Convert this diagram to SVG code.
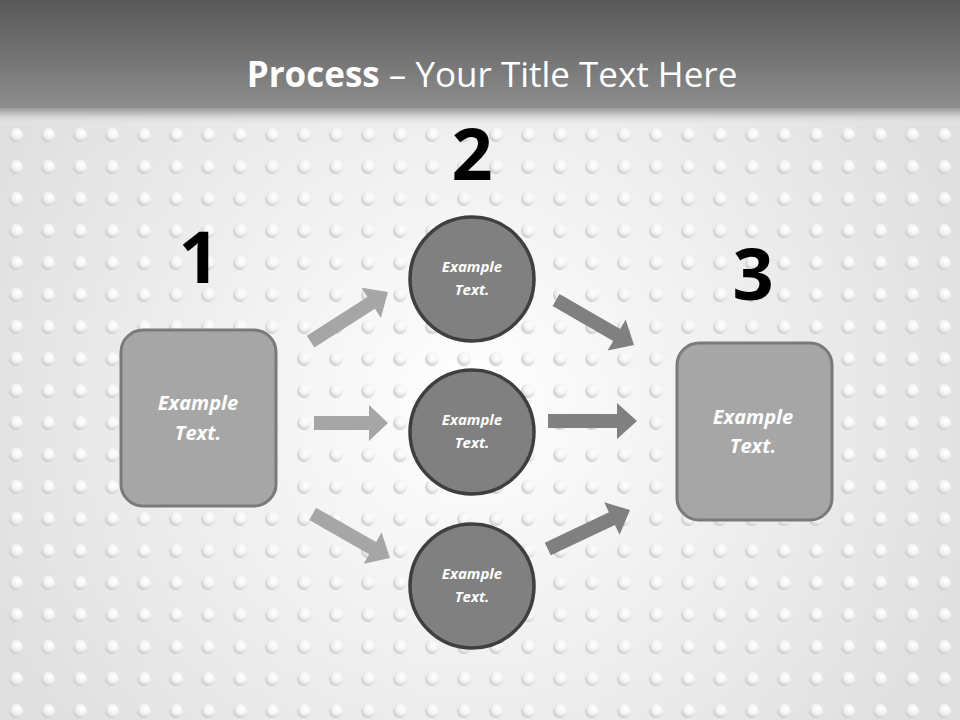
<svg xmlns="http://www.w3.org/2000/svg" width="960" height="720" viewBox="0 0 960 720">
<defs>
<linearGradient id="hdr" x1="0" y1="0" x2="0" y2="1">
<stop offset="0" stop-color="#595959"/>
<stop offset="0.5" stop-color="#737373"/>
<stop offset="1" stop-color="#8e8e8e"/>
</linearGradient>
<linearGradient id="edge" x1="0" y1="0" x2="0" y2="1">
<stop offset="0" stop-color="#9a9a9a"/>
<stop offset="0.5" stop-color="#d6d6d6"/>
<stop offset="1" stop-color="#ebebeb" stop-opacity="0"/>
</linearGradient>
<radialGradient id="bg" cx="470" cy="400" r="520" gradientUnits="userSpaceOnUse">
<stop offset="0" stop-color="#ffffff"/>
<stop offset="0.5" stop-color="#f0f0f0"/>
<stop offset="1" stop-color="#e0e0e0"/>
</radialGradient>
<radialGradient id="dotg" cx="0.62" cy="0.35" r="0.7">
<stop offset="0" stop-color="#ffffff"/>
<stop offset="0.5" stop-color="#f4f4f4"/>
<stop offset="1" stop-color="#c6c6c6"/>
</radialGradient>
<pattern id="dots" x="0" y="119" width="32" height="32" patternUnits="userSpaceOnUse">
<circle cx="16" cy="16" r="7" fill="url(#dotg)"/>
</pattern>
<style>
.title{font-family:"Open Sans","Noto Sans","Liberation Sans",sans-serif;font-size:35px;fill:#ffffff}
.num{font-family:"Open Sans","Liberation Sans",sans-serif;font-weight:bold;font-size:72px;fill:#000000;text-anchor:middle}
.box{fill:#a6a6a6;stroke:#7a7a7a;stroke-width:3}
.circ{fill:#808080;stroke:#3f3f3f;stroke-width:3.5}
.bt{font-family:"Open Sans","Liberation Sans",sans-serif;font-weight:bold;font-style:italic;font-size:20px;fill:#ffffff;text-anchor:middle}
.ct{font-family:"Open Sans","Liberation Sans",sans-serif;font-weight:bold;font-style:italic;font-size:15px;fill:#ffffff;text-anchor:middle}
.al{fill:#a6a6a6}
.ar{fill:#808080}
</style>
</defs>
<rect x="0" y="0" width="960" height="720" fill="url(#bg)"/>
<rect x="0" y="118" width="960" height="602" fill="url(#dots)"/>
<rect x="0" y="0" width="960" height="110" fill="url(#hdr)"/>
<rect x="0" y="108" width="960" height="18" fill="url(#edge)"/>
<text class="title" x="492" y="87" text-anchor="middle"><tspan font-weight="bold">Process</tspan> – Your Title Text Here</text>

<g id="connectors">
<polygon class="al" points="-92,-7 -20,-7 -20,-18 0,0 -20,18 -20,7 -92,7" transform="translate(388,292) rotate(-32.7)"/>
<polygon class="al" points="-74,-7 -19,-7 -19,-18 0,0 -19,18 -19,7 -74,7" transform="translate(388,423)"/>
<polygon class="al" points="-89,-7 -20,-7 -20,-18 0,0 -20,18 -20,7 -89,7" transform="translate(390,558) rotate(29.7)"/>
<polygon class="ar" points="-90,-7 -20,-7 -20,-18 0,0 -20,18 -20,7 -90,7" transform="translate(634,345) rotate(30)"/>
<polygon class="ar" points="-89,-7 -20,-7 -20,-18 0,0 -20,18 -20,7 -89,7" transform="translate(637,421)"/>
<polygon class="ar" points="-91,-7 -20,-7 -20,-18 0,0 -20,18 -20,7 -91,7" transform="translate(630,510) rotate(-25.4)"/>
</g>

<g id="step1">
<text class="num" x="199" y="283">1</text>
<rect class="box" x="121" y="330" width="155" height="176" rx="22"/>
<text class="bt" x="198" y="410">Example</text>
<text class="bt" x="198" y="440">Text.</text>
</g>
<g id="step2">
<text class="num" x="472" y="180">2</text>
</g>
<g id="node2a">
<circle class="circ" cx="472" cy="279" r="62"/>
<text class="ct" x="472" y="272">Example</text>
<text class="ct" x="472" y="295">Text.</text>
</g>
<g id="node2b">
<circle class="circ" cx="472" cy="432" r="62"/>
<text class="ct" x="472" y="425">Example</text>
<text class="ct" x="472" y="448">Text.</text>
</g>
<g id="node2c">
<circle class="circ" cx="472" cy="586" r="62"/>
<text class="ct" x="472" y="579">Example</text>
<text class="ct" x="472" y="602">Text.</text>
</g>
<g id="step3">
<text class="num" x="753" y="300">3</text>
<rect class="box" x="677" y="343" width="155" height="177" rx="22"/>
<text class="bt" x="753" y="424">Example</text>
<text class="bt" x="753" y="453">Text.</text>
</g>
</svg>
